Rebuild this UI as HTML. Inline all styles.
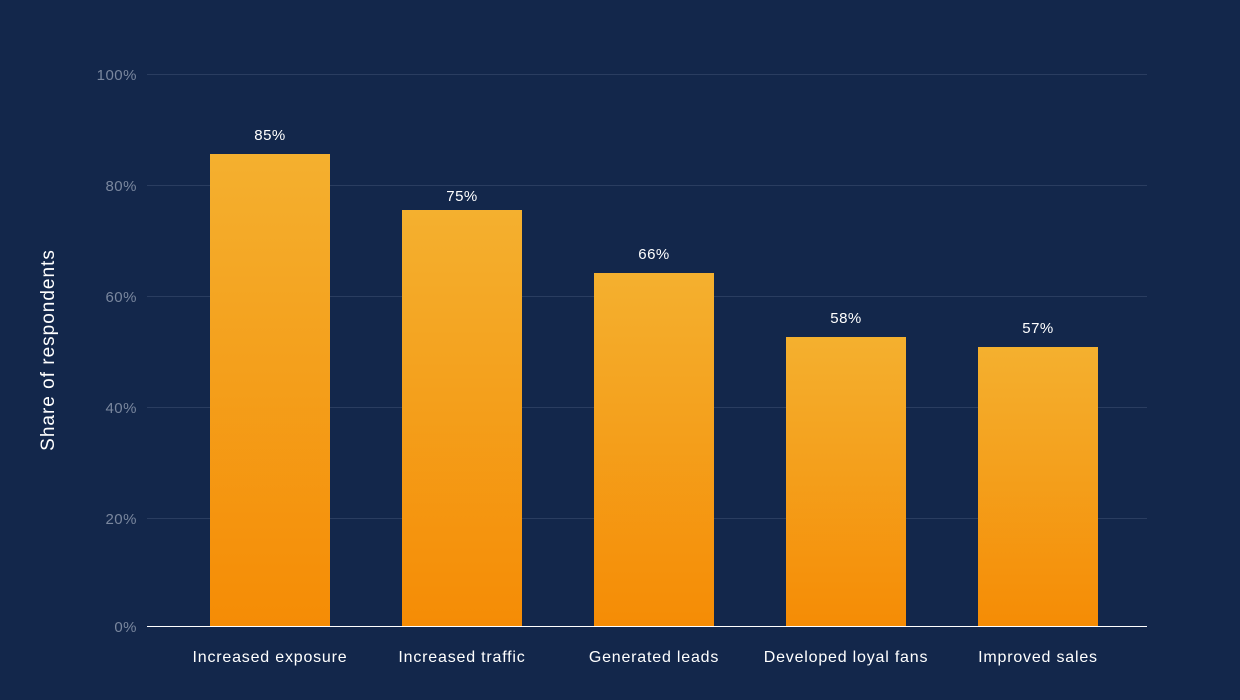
<!DOCTYPE html>
<html><head><meta charset="utf-8"><style>
html,body{margin:0;width:1240px;height:700px;background:#13274b;overflow:hidden;font-family:"Liberation Sans",sans-serif}
svg{display:block}
</style></head><body>
<svg width="1240" height="700" xmlns="http://www.w3.org/2000/svg">
<defs><linearGradient id="g" x1="0" y1="0" x2="0" y2="1"><stop offset="0" stop-color="#f4b02f"/><stop offset="1" stop-color="#f58c05"/></linearGradient></defs>
<g stroke="#2a3d60" stroke-width="1">
<line x1="147" x2="1147" y1="74.5" y2="74.5"/><line x1="147" x2="1147" y1="185.5" y2="185.5"/>
<line x1="147" x2="1147" y1="296.5" y2="296.5"/><line x1="147" x2="1147" y1="407.5" y2="407.5"/>
<line x1="147" x2="1147" y1="518.5" y2="518.5"/></g>
<g fill="#7a879e" font-size="15" text-anchor="end" letter-spacing="0.5">
<text x="137" y="80">100%</text><text x="137" y="191">80%</text><text x="137" y="302">60%</text>
<text x="137" y="413">40%</text><text x="137" y="524">20%</text><text x="137" y="632">0%</text></g>
<text transform="translate(54,350) rotate(-90)" fill="#fff" font-size="19" letter-spacing="1" text-anchor="middle">Share of respondents</text>
<g fill="url(#g)">
<rect x="210" y="154" width="120" height="472"/><rect x="402" y="210" width="120" height="416"/>
<rect x="594" y="273" width="120" height="353"/><rect x="786" y="337" width="120" height="289"/>
<rect x="978" y="347" width="120" height="279"/></g>
<line x1="147" x2="1147" y1="626.5" y2="626.5" stroke="#fff" stroke-width="1"/>
<g fill="#fff" font-size="15" text-anchor="middle" letter-spacing="0.5">
<text x="270" y="140">85%</text><text x="462" y="201">75%</text><text x="654" y="259">66%</text>
<text x="846" y="323">58%</text><text x="1038" y="333">57%</text></g>
<g fill="#fff" font-size="16" text-anchor="middle" letter-spacing="0.8">
<text x="270" y="662">Increased exposure</text><text x="462" y="662">Increased traffic</text>
<text x="654" y="662">Generated leads</text><text x="846" y="662">Developed loyal fans</text>
<text x="1038" y="662">Improved sales</text></g>
</svg>
</body></html>
